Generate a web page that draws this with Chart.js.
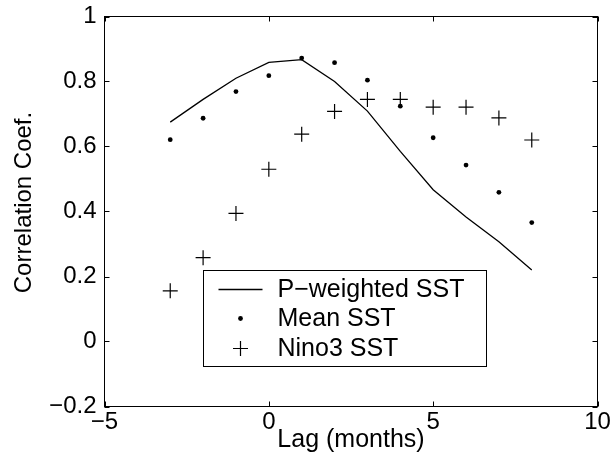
<!DOCTYPE html>
<html><head><meta charset="utf-8">
<script src="https://cdn.jsdelivr.net/npm/chart.js@4"></script>
<style>html,body{margin:0;padding:0;background:#fff}#wrap{width:614px;height:476px}</style>
</head><body><div id="wrap"><canvas id="c" width="614" height="476"></canvas></div>
<script>
const lags = [-3, -2, -1, 0, 1, 2, 3, 4, 5, 6, 7, 8];
const pWeightedSST = [0.675, 0.745, 0.810, 0.859, 0.867, 0.800, 0.709, 0.585, 0.467, 0.383, 0.307, 0.220];
const meanSST = [0.621, 0.687, 0.769, 0.818, 0.872, 0.858, 0.804, 0.724, 0.627, 0.543, 0.459, 0.366];
const nino3SST = [0.156, 0.258, 0.394, 0.530, 0.638, 0.708, 0.745, 0.745, 0.721, 0.721, 0.688, 0.620];
const seriesNames = ['P\u2212weighted SST', 'Mean SST', 'Nino3 SST'];
const xTickValues = [-5, 0, 5, 10];
const yTickValues = [-0.2, 0, 0.2, 0.4, 0.6, 0.8, 1];
const xTitle = 'Lag (months)';
const yTitle = 'Correlation Coef.';

const FONT = "'Liberation Sans', Arial, Helvetica, sans-serif";
const fmt = v => String(Math.round(v * 10) / 10).replace('-', '\u2212');
const pts = ys => lags.map((x, i) => ({x, y: ys[i]}));

const frameAndTicks = {
  id: 'frameAndTicks',
  afterDatasetsDraw(chart) {
    const ctx = chart.ctx, a = chart.chartArea;
    const xs = chart.scales.x, ys = chart.scales.y;
    const len = 5;
    ctx.save();
    ctx.strokeStyle = '#000';
    ctx.lineWidth = 1;
    ctx.beginPath();
    xs.ticks.forEach(t => {
      const p = Math.round(xs.getPixelForValue(t.value)) + 0.5;
      ctx.moveTo(p, a.bottom); ctx.lineTo(p, a.bottom - len);
      ctx.moveTo(p, a.top); ctx.lineTo(p, a.top + len);
    });
    ys.ticks.forEach(t => {
      const p = Math.round(ys.getPixelForValue(t.value)) + 0.5;
      ctx.moveTo(a.left, p); ctx.lineTo(a.left + len, p);
      ctx.moveTo(a.right, p); ctx.lineTo(a.right - len, p);
    });
    ctx.stroke();
    ctx.strokeRect(a.left, a.top, a.right - a.left, a.bottom - a.top);
    ctx.restore();
  },
  afterDraw(chart) {
    const ctx = chart.ctx, a = chart.chartArea;
    // y axis title
    ctx.save();
    ctx.fillStyle = '#000';
    ctx.font = '24px ' + FONT;
    ctx.textAlign = 'center';
    ctx.textBaseline = 'middle';
    ctx.translate(24, a.top + 186);
    ctx.rotate(-Math.PI / 2);
    ctx.fillText(yTitle, 0, 0);
    ctx.restore();

    // legend box
    const L = a.left + 99, T = a.top + 254, W = 283, H = 96;
    ctx.save();
    ctx.fillStyle = '#fff';
    ctx.fillRect(L, T, W, H);
    ctx.strokeStyle = '#000';
    ctx.lineWidth = 1;
    ctx.strokeRect(L, T, W, H);
    const rows = [T + 19, T + 48, T + 78];
    const mx = L + 37;
    ctx.lineWidth = 1.3;
    ctx.beginPath();
    ctx.moveTo(L + 15, rows[0]); ctx.lineTo(L + 59, rows[0]);
    ctx.stroke();
    ctx.fillStyle = '#000';
    ctx.beginPath();
    ctx.arc(mx, rows[1], 2.4, 0, Math.PI * 2);
    ctx.fill();
    ctx.lineWidth = 1.2;
    ctx.beginPath();
    ctx.moveTo(mx - 7.5, rows[2]); ctx.lineTo(mx + 7.5, rows[2]);
    ctx.moveTo(mx, rows[2] - 7.5); ctx.lineTo(mx, rows[2] + 7.5);
    ctx.stroke();
    ctx.font = '25px ' + FONT;
    ctx.textAlign = 'left';
    ctx.textBaseline = 'middle';
    seriesNames.forEach((n, i) => ctx.fillText(n, L + 74, rows[i] + 1));
    ctx.restore();
  }
};

new Chart(document.getElementById('c'), {
  type: 'scatter',
  data: {
    datasets: [
      {label: seriesNames[0], data: pts(pWeightedSST), showLine: true, borderColor: '#000', borderWidth: 1.3, pointRadius: 0, tension: 0, fill: false},
      {label: seriesNames[1], data: pts(meanSST), pointStyle: 'circle', pointRadius: 2.4, backgroundColor: '#000', borderColor: '#000', borderWidth: 0},
      {label: seriesNames[2], data: pts(nino3SST), pointStyle: 'cross', pointRadius: 7.5, borderColor: '#000', borderWidth: 1.2}
    ]
  },
  options: {
    responsive: false,
    animation: false,
    devicePixelRatio: 1,
    layout: {padding: {top: 16.5, right: 16.5, left: 0, bottom: 0}},
    plugins: {legend: {display: false}, tooltip: {enabled: false}},
    scales: {
      x: {
        type: 'linear', min: -5, max: 10,
        afterBuildTicks: s => { s.ticks = xTickValues.map(v => ({value: v})); },
        afterFit: s => { s.height = 69.5; },
        grid: {display: false, drawTicks: false},
        border: {display: false},
        ticks: {color: '#000', font: {family: FONT, size: 24}, padding: 1, callback: v => fmt(v), maxRotation: 0},
        title: {display: true, text: xTitle, color: '#000', font: {family: FONT, size: 25}, padding: {top: 0, bottom: 21}}
      },
      y: {
        type: 'linear', min: -0.2, max: 1,
        afterBuildTicks: s => { s.ticks = yTickValues.map(v => ({value: v})); },
        afterFit: s => { s.width = 104.5; },
        grid: {display: false, drawTicks: false},
        border: {display: false},
        ticks: {color: '#000', font: {family: FONT, size: 24, lineHeight: 0.6}, padding: 8, callback: v => fmt(v)}
      }
    }
  },
  plugins: [frameAndTicks]
});
</script></body></html>
